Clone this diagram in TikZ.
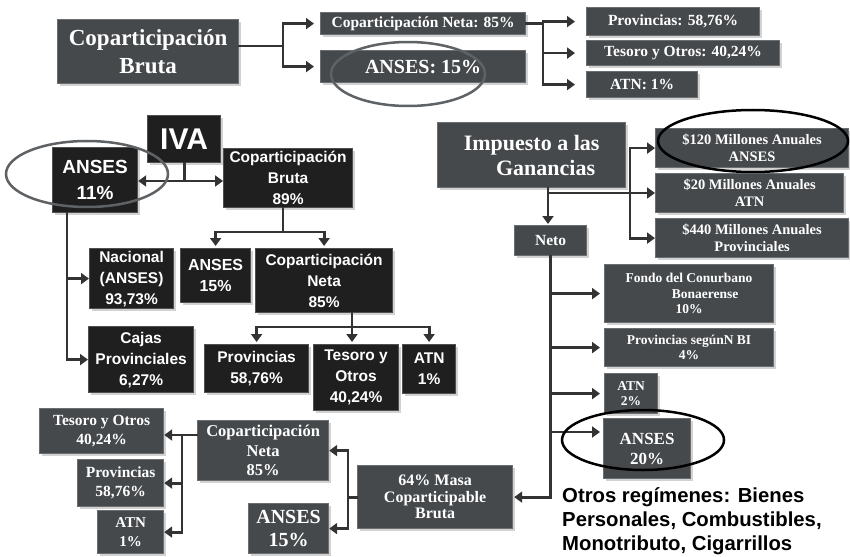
\documentclass[tikz,border=0pt]{standalone}
\usepackage{fontspec}
\setmainfont{Liberation Serif}
\setsansfont{Liberation Sans}
\usetikzlibrary{arrows.meta,shadows,calc}
\definecolor{gfill}{HTML}{45494C}
\definecolor{gedge}{HTML}{6A6E71}
\definecolor{kfill}{HTML}{1F1F1F}
\definecolor{kedge}{HTML}{505050}
\definecolor{linec}{HTML}{333333}
\definecolor{ellg}{HTML}{5E6265}
\newcommand\rmb[2]{\fontsize{#1}{#2}\selectfont\rmfamily\bfseries}
\newcommand\sfb[2]{\fontsize{#1}{#2}\selectfont\sffamily\bfseries}
\newcommand\bx[8]{\node[#1,anchor=north west,minimum width={(#5-#3)*1pt},minimum height={(#6-#4)*1pt},font={#7}] (#2) at (#3,#4) {#8};}
\tikzset{
  gbox/.style={fill=gfill, draw=gedge, line width=1.2pt, text=white, align=center, inner sep=1pt,
    drop shadow={shadow xshift=2.5pt, shadow yshift=-2.5pt, opacity=0.35}},
  kbox/.style={fill=kfill, draw=kedge, line width=1.2pt, text=white, align=center, inner sep=1pt,
    drop shadow={shadow xshift=2.5pt, shadow yshift=-2.5pt, opacity=0.35}},
  ln/.style={draw=linec, line width=2.8pt, line cap=rect},
  arr/.style={draw=linec, line width=2.8pt, line cap=rect, -{Triangle[length=8pt,width=11pt]}},
  ring/.style={line width=2.5pt},
  otros/.style={font=\sfb{20.3}{24}, text=black, inner sep=0pt, anchor=base west},
}
\begin{document}
\begin{tikzpicture}[x=1pt,y=-1pt]
\fill[white] (0,0) rectangle (850,556);
\useasboundingbox (0,0) rectangle (850,556);

% ---------- top ----------
\bx{gbox}{cbr}{57}{19}{238}{83}{\rmb{23}{28}}{Coparticipación\\Bruta}
\bx{gbox}{cneta}{320}{12}{525}{34}{\rmb{15.5}{18}}{Coparticipación Neta: 85\%}
\bx{gbox}{ans1}{320}{50}{525}{82}{\rmb{20}{24}}{ANSES: 15\%}
\bx{gbox}{prov1}{586}{7}{759}{35}{\rmb{15.5}{18}}{Provincias: 58,76\%}
\bx{gbox}{tes1}{586}{40}{779}{65}{\rmb{15.5}{18}}{Tesoro y Otros: 40,24\%}
\bx{gbox}{atn1}{586}{71}{697}{97}{\rmb{15.5}{18}}{ATN: 1\%}

\coordinate (j1) at (283,46);
\draw[ln] (cbr.east |- j1) -- (j1);
\draw[arr, shorten >=6pt] (j1) |- (cneta.west);
\draw[arr, shorten >=6pt] (j1) |- (ans1.west);
\coordinate (j2) at (543,23);
\draw[ln] (cneta.east) -- (cneta.east -| j2);
\draw[arr, shorten >=11pt] (cneta.east -| j2) |- (prov1.west);
\draw[arr, shorten >=11pt] (cneta.east -| j2) |- (tes1.west);
\draw[arr, shorten >=11pt] (cneta.east -| j2) |- (atn1.west);

% ---------- IVA ----------
\bx{kbox}{iva}{147}{115}{220}{162}{\sfb{30}{34}}{IVA}
\bx{kbox}{ans11}{52}{147}{137}{212}{\sfb{19}{26}}{ANSES\\11\%}
\bx{kbox}{cbr2}{223}{148}{352}{207}{\sfb{15.5}{21}}{Coparticipación\\Bruta\\89\%}
\bx{kbox}{nac}{89}{248}{173}{308}{\sfb{15.5}{21}}{Nacional\\(ANSES)\\93,73\%}
\bx{kbox}{ans15}{180}{248}{250}{302}{\sfb{16}{21}}{ANSES\\15\%}
\bx{kbox}{cneta2}{255}{248}{392}{312}{\sfb{15.5}{21}}{Coparticipación\\Neta\\85\%}
\bx{kbox}{cajas}{88}{326}{193}{392}{\sfb{15.5}{21}}{Cajas\\Provinciales\\6,27\%}
\bx{kbox}{prov2}{204}{344}{308}{392}{\sfb{15.5}{21}}{Provincias\\58,76\%}
\bx{kbox}{tes2}{313}{344}{398}{410}{\sfb{15.5}{21}}{Tesoro y\\Otros\\40,24\%}
\bx{kbox}{atn2}{402}{344}{455}{393}{\sfb{15.5}{21}}{ATN\\1\%}

\coordinate (j3) at (183.5,181);
\draw[ln] (iva.south) -- (iva.south |- j3);
\draw[arr] (iva.south |- j3) -- (ans11.east |- j3);
\draw[arr] (iva.south |- j3) -- (cbr2.west |- j3);
\coordinate (j4) at (283,232);
\draw[ln] (cbr2.south -| j4) -- (j4);
\draw[arr, shorten >=2pt] (j4) -| (ans15.north);
\draw[arr, shorten >=2pt] (j4) -| (cneta2.north);
\coordinate (j5) at (67,357);
\draw[arr] (ans11.south -| j5) |- (cajas.west);
\draw[arr] (nac.west -| j5) -- (nac.west);
\coordinate (j6) at (352,327);
\draw[ln] (cneta2.south -| j6) -- (j6);
\draw[arr, shorten >=2pt] (j6) -| (prov2.north);
\draw[arr, shorten >=2pt] (j6) -- (j6 |- tes2.north);
\draw[arr, shorten >=2pt] (j6) -| (atn2.north);

% ---------- Ganancias ----------
\bx{gbox}{gan}{437}{122}{625}{187}{\rmb{22}{25}}{Impuesto a las\\\hspace*{28pt}Ganancias}
\bx{gbox}{m120}{655}{128}{848}{167}{\rmb{14.5}{17}}{\$120 Millones Anuales\\ANSES}
\bx{gbox}{m20}{655}{173}{843}{212}{\rmb{14.5}{17}}{\$20 Millones Anuales\\ATN}
\bx{gbox}{m440}{655}{218}{848}{257}{\rmb{14.5}{17}}{\$440 Millones Anuales\\Provinciales}
\bx{gbox}{neto}{514}{225}{586}{255}{\rmb{15.5}{18}}{Neto}
\bx{gbox}{fondo}{604}{264}{773}{322}{\rmb{13.5}{15.5}}{Fondo del Conurbano\\\hspace*{32pt}Bonaerense\\10\%}
\bx{gbox}{provn}{604}{328}{773}{366}{\rmb{13.5}{15}}{Provincias segúnN BI\\4\%}
\bx{gbox}{atn3}{604}{373}{657}{413}{\rmb{13.5}{15}}{ATN\\2\%}
\bx{gbox}{ans20}{603}{418}{690}{478}{\rmb{17}{20}}{ANSES\\20\%}

% ---------- bottom left ----------
\bx{gbox}{tes3}{39}{408}{163}{453}{\rmb{15.5}{19}}{Tesoro y Otros\\40,24\%}
\bx{gbox}{prov3}{77}{459}{163}{506}{\rmb{15.5}{19}}{Provincias\\58,76\%}
\bx{gbox}{atn4}{97}{510}{163}{553}{\rmb{15}{19}}{ATN\\1\%}
\bx{gbox}{cneta3}{197}{420}{328}{480}{\rmb{16.5}{19.5}}{Coparticipación\\Neta\\85\%}
\bx{gbox}{ans3}{248}{503}{328}{553}{\rmb{20}{23}}{ANSES\\15\%}
\bx{gbox}{masa}{357}{465}{512}{528}{\rmb{16}{16.5}}{64\% Masa\\Coparticipable\\Bruta}

\coordinate (jg) at (548,193);
\draw[ln] (gan.south -| jg) -- (jg);
\draw[arr, shorten >=1pt] (jg) -- (neto.north -| jg);
\draw[arr] (jg) -- (m20.west |- jg);
\coordinate (jb) at (630,193);
\draw[arr] (jb) |- (m120.west);
\draw[arr] (jb) |- (m440.west);
\coordinate (a20) at (603,432);
\draw[arr, shorten >=1pt] (neto.south) |- (masa.east);
\draw[arr, shorten >=4pt] (fondo.west -| neto.south) -- (fondo.west);
\draw[arr, shorten >=4pt] (provn.west -| neto.south) -- (provn.west);
\draw[arr, shorten >=4pt] (atn3.west -| neto.south) -- (atn3.west);
\draw[arr, shorten >=3pt] (neto.south |- a20) -- (a20);

\coordinate (jl) at (182,435);
\draw[arr] (cneta3.west |- jl) -- (tes3.east |- jl);
\draw[arr] (jl) |- (atn4.east);
\draw[arr] (prov3.east -| jl) -- (prov3.east);
\coordinate (jm) at (348,497);
\draw[ln] (masa.west) -- (masa.west -| jm);
\draw[arr] (masa.west -| jm) |- (cneta3.east);
\draw[arr] (masa.west -| jm) |- (ans3.east);

% ---------- rings ----------
\draw[ring, draw=ellg] (408,74) ellipse [x radius=77pt, y radius=32pt];
\draw[ring, draw=ellg] (87,174) ellipse [x radius=81pt, y radius=33pt];
\draw[ring, draw=black] (753,141) ellipse [x radius=95pt, y radius=31pt];
\draw[ring, draw=black] (643,440) ellipse [x radius=81pt, y radius=30pt];

% ---------- note ----------
\node[otros] (ot1) at (562,502) {Otros regímenes: Bienes};
\node[otros] (ot2) at (562,526) {Personales, Combustibles,};
\node[otros] (ot3) at (562,550) {Monotributo, Cigarrillos};
\end{tikzpicture}
\end{document}
